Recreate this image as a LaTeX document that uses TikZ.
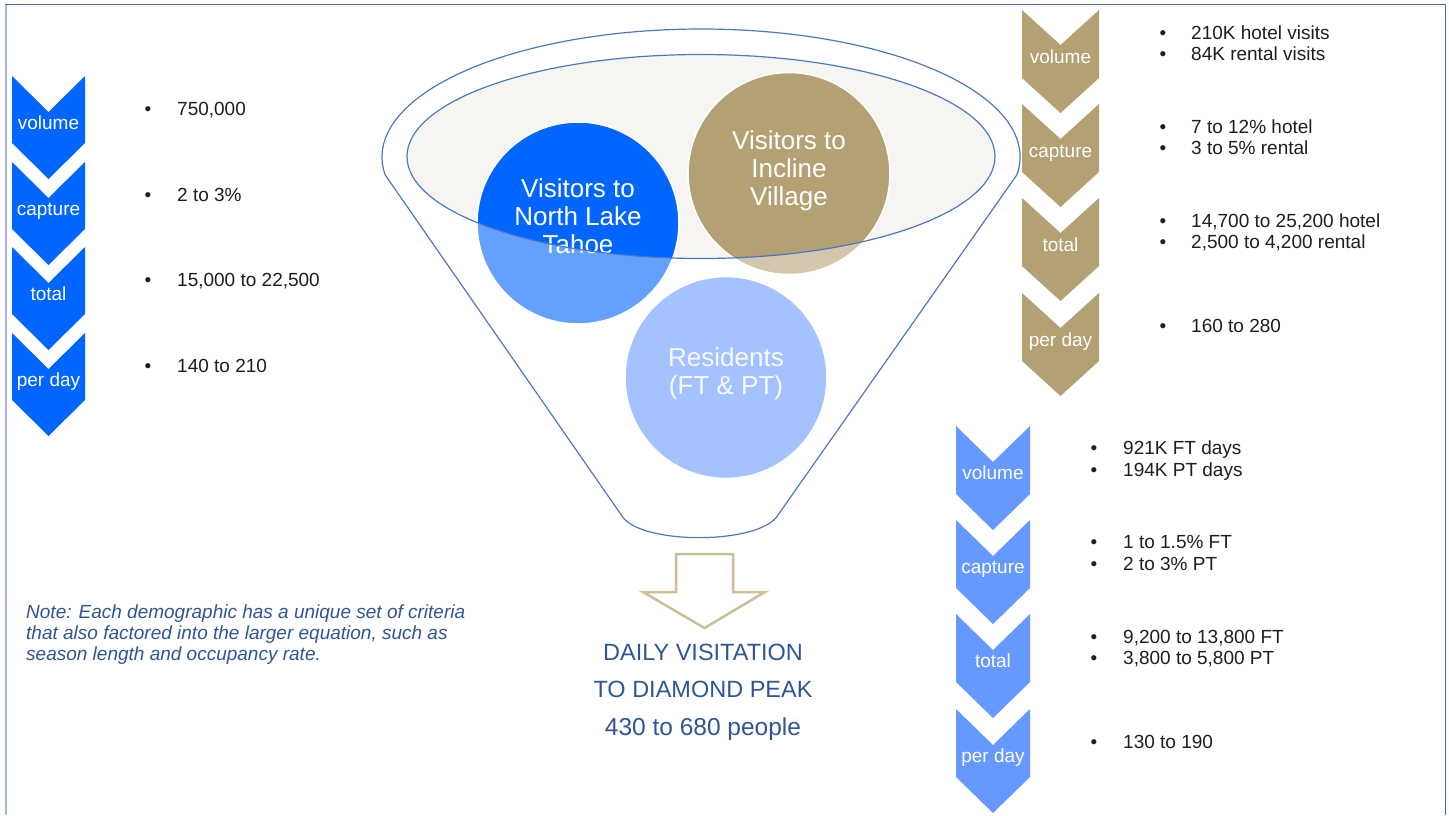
\documentclass[tikz,border=0pt]{standalone}
\usepackage{fontspec}
\setmainfont{Liberation Sans}
\definecolor{cblue}{HTML}{0066FF}
\definecolor{cbluel}{HTML}{64A1FF}
\definecolor{ctan}{HTML}{B3A073}
\definecolor{ctanl}{HTML}{D2C6AC}
\definecolor{cres}{HTML}{A3C2FF}
\definecolor{cmid}{HTML}{6699FF}
\definecolor{rim}{HTML}{F6F5F1}
\definecolor{fline}{HTML}{4A78C2}
\definecolor{navy}{HTML}{2F5597}
\definecolor{arrowtan}{HTML}{C9BF98}
\definecolor{frameA}{HTML}{4C64BE}
\definecolor{frameL}{HTML}{A8B4E4}
\definecolor{ink}{HTML}{1E1E1E}
\tikzset{
  chevlabel/.style={text=white, font=\fontsize{19}{21}\selectfont, anchor=base, inner sep=0pt},
  btxt/.style={text=ink, font=\fontsize{19}{21}\selectfont, anchor=base west, inner sep=0pt},
  bdot/.style={text=ink, font=\fontsize{19}{21}\selectfont, anchor=base, inner sep=0pt},
  circtext/.style={text=white, font=\fontsize{26}{28}\selectfont, align=center, inner sep=0pt},
  bigtext/.style={text=navy, font=\fontsize{23.5}{25}\selectfont, anchor=base, inner sep=0pt},
  notetext/.style={text=navy, font=\fontsize{19}{21}\selectfont\itshape, anchor=base west, inner sep=0pt},
  funnel/.style={draw=fline, line width=1.2pt},
  ringcirc/.style={draw=white, line width=1.5pt},
}
\newcommand\chevron[6]{%
  \fill[#6] (#1,#2) -- ({#1+#3/2},{#2+#4}) -- ({#1+#3},#2) -- ({#1+#3},{#2+#5})
    -- ({#1+#3/2},{#2+#5+#4}) -- (#1,{#2+#5}) -- cycle;}
\newcommand\bitem[5]{%
  \node[bdot] (#1d) at (#2,#4) {\textbullet};
  \node[btxt] (#1t) at (#3,#4) {#5};}
\begin{document}
\begin{tikzpicture}[x=1pt,y=-1pt]
\useasboundingbox (0,0) rectangle (1449,815);
% frame
\draw[frameL, line width=2pt] (6,815) -- (6,4.5);
\draw[frameA, line width=1.3pt] (5,4.5) -- (1445.5,4.5) -- (1445.5,815);

% left chevrons
\foreach \y/\lab/\n in {76/volume/a,162/capture/b,247/total/c,333/per day/d}{
  \chevron{12}{\y}{73}{36}{67}{cblue}
  \node[chevlabel] (L\n) at (48.5,\y+53) {\lab};
}
\bitem{La}{148}{177}{115.5}{750,000}
\bitem{Lb}{148}{177}{201.5}{2 to 3\%}
\bitem{Lc}{148}{177}{286.5}{15,000 to 22,500}
\bitem{Ld}{148}{177}{372.5}{140 to 210}

% right tan chevrons
\foreach \y/\lab/\n in {10/volume/a,104/capture/b,198/total/c,293/per day/d}{
  \chevron{1022}{\y}{77}{35}{68}{ctan}
  \node[chevlabel] (T\n) at (1060.5,\y+53) {\lab};
}
\bitem{Ta1}{1163}{1191}{39}{210K hotel visits}
\bitem{Ta2}{1163}{1191}{60}{84K rental visits}
\bitem{Tb1}{1163}{1191}{133}{7 to 12\% hotel}
\bitem{Tb2}{1163}{1191}{154}{3 to 5\% rental}
\bitem{Tc1}{1163}{1191}{227}{14,700 to 25,200 hotel}
\bitem{Tc2}{1163}{1191}{248}{2,500 to 4,200 rental}
\bitem{Td1}{1163}{1191}{332.5}{160 to 280}

% bottom right blue chevrons
\foreach \y/\lab/\n in {426/volume/a,520/capture/b,614/total/c,709/per day/d}{
  \chevron{956}{\y}{74}{36}{68}{cmid}
  \node[chevlabel] (B\n) at (993,\y+53) {\lab};
}
\bitem{Ba1}{1094}{1123}{454.5}{921K FT days}
\bitem{Ba2}{1094}{1123}{476}{194K PT days}
\bitem{Bb1}{1094}{1123}{548.5}{1 to 1.5\% FT}
\bitem{Bb2}{1094}{1123}{570}{2 to 3\% PT}
\bitem{Bc1}{1094}{1123}{643.5}{9,200 to 13,800 FT}
\bitem{Bc2}{1094}{1123}{664}{3,800 to 5,800 PT}
\bitem{Bd1}{1094}{1123}{748.5}{130 to 190}

% funnel
\fill[rim] (701,156.5) ellipse[x radius=294, y radius=102];
\filldraw[fill=cbluel, ringcirc] (578,223) circle[radius=101];
\filldraw[fill=ctanl, ringcirc] (789,173.5) circle[radius=101];
\filldraw[fill=cres, ringcirc] (726,377.5) circle[radius=101];
\begin{scope}
  \clip (701,156.5) ellipse[x radius=294, y radius=102];
  \filldraw[fill=cblue, ringcirc] (578,223) circle[radius=101];
  \filldraw[fill=ctan, ringcirc] (789,173.5) circle[radius=101];
\end{scope}
\node[circtext] (nlt) at (578,216.5) {Visitors to\\North Lake\\Tahoe};
\node[circtext] (iv) at (789,171) {Visitors to\\Incline\\Village};
\node[circtext, text=white!92!cres] (res) at (726,373.5) {Residents\\(FT \& PT)};
\draw[funnel] (701,156.5) ellipse[x radius=294, y radius=102];
\draw[funnel, line join=round] (701,157) ++(8:319 and 128)
  arc[start angle=8, end angle=-188, x radius=319, y radius=128]
  -- (622,516) .. controls (640,545) and (760,545) .. (778,515) -- cycle;

% arrow
\draw[arrowtan, line width=2.5pt, line join=miter] (676,554) -- (733,554) -- (733,592)
  -- (765,592) -- (704.5,628) -- (643,592) -- (676,592) -- cycle;
\node[bigtext] (dv) at (703,660) {DAILY VISITATION};
\node[bigtext] (dp) at (703,697) {TO DIAMOND PEAK};
\node[bigtext, font=\fontsize{24.5}{26}\selectfont] (ppl) at (703,735) {430 to 680 people};

% note
\node[notetext] (n1) at (26,618) {Note: Each demographic has a unique set of criteria};
\node[notetext] (n2) at (26,639) {that also factored into the larger equation, such as};
\node[notetext] (n3) at (26,660) {season length and occupancy rate.};
\end{tikzpicture}
\end{document}
